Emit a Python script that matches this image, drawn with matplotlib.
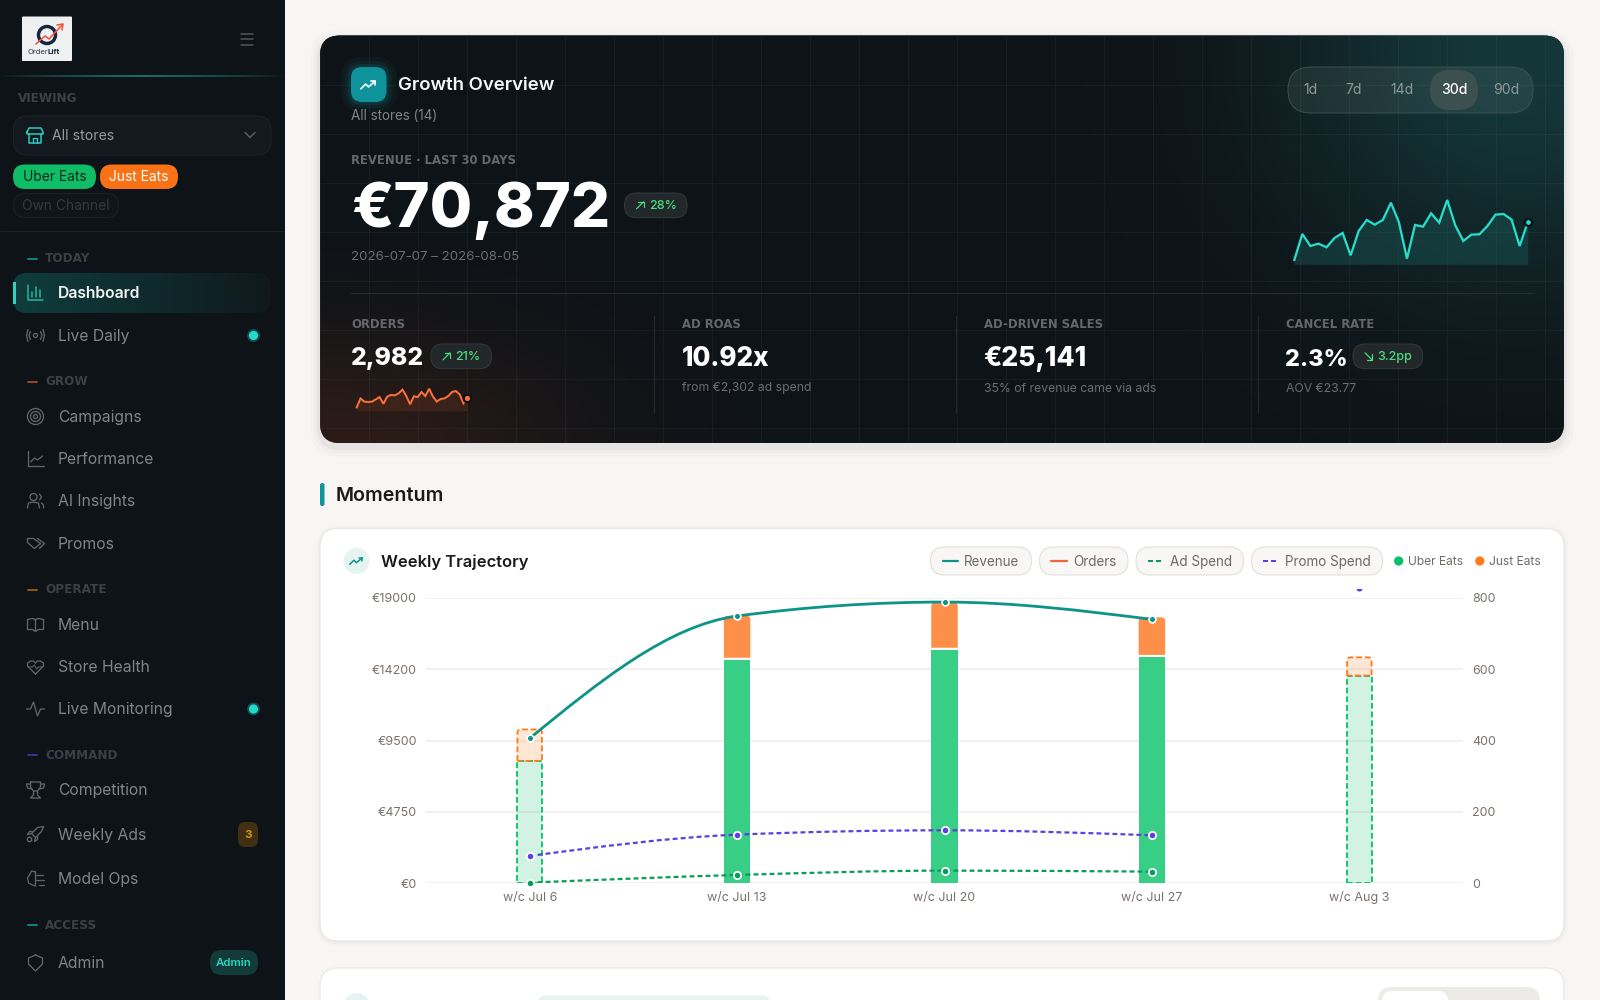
import numpy as np
import matplotlib
matplotlib.use("Agg")
import matplotlib.pyplot as plt
from matplotlib.patches import FancyBboxPatch, Circle, PathPatch, Rectangle
from matplotlib.path import Path
from matplotlib.transforms import Bbox

plt.rcParams['font.family'] = ['Inter', 'DejaVu Sans']

# chart data
weeks = ['w/c Jul 6', 'w/c Jul 13', 'w/c Jul 20', 'w/c Jul 27', 'w/c Aug 3']
uber_orders = [343, 629, 657, 637, 582]
just_orders = [88, 120, 129, 108, 51]
partial_week = [True, False, False, False, True]
revenue = [9644, 17781, 18710, 17560]
ad_spend = [45, 554, 842, 776]
promo_spend = [1818, 3237, 3525, 3192]
promo_last_week = 19625
money_ticks = [0, 4750, 9500, 14250, 19000]
money_labels = ['€0', '€4750', '€9500', '€14200', '€19000']
order_ticks = [0, 200, 400, 600, 800]

revenue_daily = [299, 2093, 1265, 1426, 1173, 1817, 2162, 621, 2300, 3059, 2737, 3059, 4255, 2898, 391,
                 2714, 2599, 3519, 2875, 4439, 2691, 1610, 2047, 2070, 2645, 3427, 3473, 3082, 1265, 2898]
orders_daily = [25, 92, 68, 65, 68, 85, 102, 52, 105, 118, 115, 130, 158, 110, 48,
                108, 102, 140, 110, 165, 105, 68, 88, 92, 110, 140, 148, 122, 55, 92]

ranges = ['1d', '7d', '14d', '30d', '90d']
range_x = [1310, 1354, 1402, 1454, 1506]

nav_heads = [('TODAY', 258.5, '#0f8f8f'), ('GROW', 381.5, '#a8482c'), ('OPERATE', 589.5, '#a85c14'),
             ('COMMAND', 755, '#43389c'), ('ACCESS', 925, '#0f8f8f')]
nav_items = [('Live Daily', 335.5), ('Campaigns', 416.5), ('Performance', 459), ('AI Insights', 501),
             ('Promos', 543.5), ('Menu', 624.5), ('Store Health', 667), ('Live Monitoring', 709),
             ('Competition', 790), ('Weekly Ads', 834.5), ('Model Ops', 879), ('Admin', 963)]

TEAL = '#0d9488'
GREEN = '#06c167'
ORANGE = '#ff7a1a'
PURPLE = '#5b3fe0'
ADGREEN = '#0a9a5c'

fig = plt.figure(figsize=(16, 10), dpi=100, facecolor='#f7f6f4')
ui = fig.add_axes([0, 0, 1, 1])
ui.set_xlim(0, 1600)
ui.set_ylim(1000, 0)
ui.axis('off')


def box(x0, y0, x1, y1, r, fc, ec='none', lw=1.0, z=2, alpha=None):
    p = FancyBboxPatch((x0, y0), x1 - x0, y1 - y0, boxstyle=f'round,pad=0,rounding_size={r}',
                       fc=fc, ec=ec, lw=lw * 0.72, zorder=z, alpha=alpha)
    ui.add_patch(p)
    return p


def txt(x, y, s, px, color, weight='normal', ha='left', va='center', z=6, family=None):
    kw = {'family': family} if family else {}
    return ui.text(x, y, s, fontsize=px * 0.72, color=color, fontweight=weight, ha=ha, va=va, zorder=z, **kw)


def poly(pts, color, lw=1.3, z=6, **kw):
    xs, ys = zip(*pts)
    ui.plot(xs, ys, color=color, lw=lw * 0.72, zorder=z, solid_capstyle='round',
            solid_joinstyle='round', **kw)


def ring(x, y, r, color, lw=1.3, z=6, fc='none'):
    ui.add_patch(Circle((x, y), r, fc=fc, ec=color, lw=lw * 0.72, zorder=z))


def trend(x, y, color, s=1.0, lw=1.6):
    poly([(x - 8 * s, y + 4 * s), (x - 3 * s, y - 1 * s), (x, y + 2 * s), (x + 7 * s, y - 4 * s)], color, lw)
    poly([(x + 3 * s, y - 4 * s), (x + 7 * s, y - 4 * s), (x + 7 * s, y)], color, lw)


def icon(name, x, y, c):
    if name == 'Dashboard':
        poly([(x - 7, y - 8), (x - 7, y + 7), (x + 8, y + 7)], c, 1.5)
        for dx, top in [(-3, -1), (1, -6), (5, -3)]:
            poly([(x + dx, y + 4), (x + dx, y + top)], c, 1.5)
    elif name == 'Live Daily':
        ring(x, y, 2, c)
        for sgn in (-1, 1):
            poly([(x + sgn * 5, y - 4), (x + sgn * 6.5, y), (x + sgn * 5, y + 4)], c)
            poly([(x + sgn * 7.5, y - 6), (x + sgn * 9, y), (x + sgn * 7.5, y + 6)], c)
    elif name == 'Campaigns':
        for r in (8, 5, 2):
            ring(x, y, r, c)
    elif name == 'Performance':
        poly([(x - 8, y - 8), (x - 8, y + 7), (x + 8, y + 7)], c)
        poly([(x - 5, y + 3), (x - 1, y - 1), (x + 2, y + 1), (x + 7, y - 3)], c)
    elif name == 'AI Insights':
        ring(x - 2, y - 4, 3.5, c)
        poly([(x - 8, y + 7), (x - 7, y + 2), (x - 2, y + 1), (x + 3, y + 2), (x + 4, y + 7)], c)
        poly([(x + 4, y - 7), (x + 6, y - 4), (x + 4, y - 1)], c)
        poly([(x + 6, y + 2), (x + 8, y + 4), (x + 8, y + 7)], c)
    elif name == 'Promos':
        poly([(x - 8, y - 5), (x - 2, y - 5), (x + 5, y), (x - 1, y + 5), (x - 8, y - 1), (x - 8, y - 5)], c)
        poly([(x + 2, y - 5), (x + 9, y), (x + 4, y + 5)], c)
    elif name == 'Menu':
        poly([(x - 8, y - 5), (x - 3, y - 6), (x, y - 5), (x, y + 7), (x - 3, y + 5), (x - 8, y + 5), (x - 8, y - 5)], c)
        poly([(x + 8, y - 5), (x + 3, y - 6), (x, y - 5)], c)
        poly([(x, y + 7), (x + 3, y + 5), (x + 8, y + 5), (x + 8, y - 5)], c)
    elif name == 'Store Health':
        poly([(x, y + 7), (x - 8, y - 1), (x - 8, y - 4), (x - 5, y - 6), (x - 2, y - 6), (x, y - 4),
              (x + 2, y - 6), (x + 5, y - 6), (x + 8, y - 4), (x + 8, y - 1), (x, y + 7)], c)
        poly([(x - 7, y), (x - 3, y), (x - 1, y - 2), (x + 1, y + 2), (x + 3, y), (x + 7, y)], c, 1.0)
    elif name == 'Live Monitoring':
        poly([(x - 9, y), (x - 5, y), (x - 2, y - 7), (x + 2, y + 7), (x + 5, y), (x + 9, y)], c)
    elif name == 'Competition':
        poly([(x - 5, y - 8), (x + 5, y - 8), (x + 5, y - 3), (x + 2, y + 1), (x - 2, y + 1), (x - 5, y - 3), (x - 5, y - 8)], c)
        poly([(x - 5, y - 6), (x - 9, y - 6), (x - 8, y - 2), (x - 4, y - 1)], c)
        poly([(x + 5, y - 6), (x + 9, y - 6), (x + 8, y - 2), (x + 4, y - 1)], c)
        poly([(x - 2, y + 1), (x - 2, y + 5), (x - 5, y + 8), (x + 5, y + 8), (x + 2, y + 5), (x + 2, y + 1)], c)
    elif name == 'Weekly Ads':
        poly([(x + 8, y - 8), (x + 2, y - 7), (x - 4, y - 1), (x, y + 3), (x + 6, y - 3), (x + 8, y - 8)], c)
        poly([(x - 4, y - 1), (x - 8, y), (x - 6, y - 3), (x - 3, y - 3)], c)
        poly([(x, y + 3), (x - 1, y + 7), (x + 2, y + 5), (x + 2, y + 2)], c)
        ring(x - 6, y + 5, 2.2, c)
    elif name == 'Model Ops':
        poly([(x, y - 7), (x - 4, y - 8), (x - 6, y - 4), (x - 8, y - 1), (x - 7, y + 4), (x - 3, y + 6), (x, y + 7), (x, y - 7)], c)
        poly([(x, y - 4), (x + 7, y - 4)], c)
        poly([(x, y + 1), (x + 8, y + 1)], c)
        poly([(x + 3, y + 6), (x + 8, y + 6)], c)
    elif name == 'Admin':
        poly([(x, y - 8), (x + 7, y - 5), (x + 7, y + 1), (x, y + 8), (x - 7, y + 1), (x - 7, y - 5), (x, y - 8)], c)


def gradient(x0, y0, x1, y1, rgba, clip, z=1):
    im = ui.imshow(rgba, extent=(x0, x1, y1, y0), aspect='auto', zorder=z, interpolation='bilinear')
    im.set_clip_path(clip)
    ui.set_xlim(0, 1600)
    ui.set_ylim(1000, 0)


def rgb(h):
    return np.array(matplotlib.colors.to_rgb(h))


# sidebar
ui.add_patch(Rectangle((0, 0), 284.5, 1000, fc='#0d1317', ec='none', zorder=1))
box(22, 16.5, 72, 61, 1, '#eef0f2', z=2)
ring(47, 35, 8.5, '#16263f', 3.4, z=3)
poly([(36, 44), (45, 36), (49, 39), (62, 25)], '#f0563a', 1.6, z=4)
poly([(57, 25), (63, 24), (62, 30)], '#f0563a', 1.6, z=4)
ui.text(28, 52.5, 'Order', fontsize=5.5, color='#33404f', va='center', zorder=4)
ui.text(47, 52.5, 'Lift', fontsize=5.5, color='#16263f', fontweight='bold', va='center', zorder=4)
for yy in (33.5, 39, 44.5):
    poly([(240.5, yy), (252.5, yy)], '#4d545a', 1.6)
line_grad = np.zeros((1, 285, 4))
line_grad[0, :, :3] = rgb('#1f8d85')
line_grad[0, :, 3] = 0.75 * np.clip(1 - np.abs(np.linspace(-1, 1, 285)), 0, 1) ** 0.7
clip_all = Rectangle((0, 74), 285, 4, transform=ui.transData)
gradient(0, 75.3, 285, 77, line_grad, clip_all, z=2)

txt(18, 98.5, 'VIEWING', 12, '#3c4248', 'bold', family='DejaVu Sans')
box(13.5, 116, 271, 155, 14, '#14191e', '#1d2328')
poly([(27, 132), (29, 128), (41, 128), (43, 132), (43, 134), (27, 134), (27, 132)], '#22d3c5', 1.5)
poly([(29, 134), (29, 143), (41, 143), (41, 134)], '#22d3c5', 1.5)
poly([(33, 143), (33, 138), (37, 138), (37, 143)], '#22d3c5', 1.3)
txt(52.5, 135.5, 'All stores', 14, '#959ba0')
poly([(245, 132.5), (250, 137.5), (255, 132.5)], '#565d63', 1.5)
box(13, 164.5, 96, 189, 12, '#0fbd66')
txt(54.5, 177.2, 'Uber Eats', 13.8, '#06281a', ha='center')
box(100, 164.5, 178, 189, 12, '#f97316')
txt(139, 177.2, 'Just Eats', 13.8, '#ffffff', ha='center')
box(13.5, 193.5, 118.5, 217.5, 12, '#0f1519', '#1a2025')
txt(66, 205.8, 'Own Channel', 13.8, '#33393f', ha='center')
poly([(0, 231), (284, 231)], '#1a2025', 1.0)

for name, yy, c in nav_heads:
    poly([(27.5, yy), (37, yy)], c, 1.8)
    txt(45, yy + 0.3, name, 12, '#3a4046', 'bold', family='DejaVu Sans')

row_clip = box(13, 273, 271, 313, 14, 'none', z=1)
row = np.zeros((1, 258, 4))
row[0, :, :3] = rgb('#0f3d3d') * np.linspace(1, 0, 258)[:, None] + rgb('#10191e') * np.linspace(0, 1, 258)[:, None]
row[0, :, 3] = 1
gradient(13, 273, 271, 313, row, row_clip, z=2)
ui.add_patch(Rectangle((13, 282), 3, 22, fc='#2dd4bf', ec='none', zorder=4))
icon('Dashboard', 35, 293, '#1fb9a9')
txt(58, 293.8, 'Dashboard', 15.7, '#f2f4f5', 'semibold')

for name, yy in nav_items:
    icon(name, 35.5, yy, '#5f666c')
    txt(58, yy + 0.7, name, 15.7, '#7e858b')
for yy in (335.5, 709):
    ui.add_patch(Circle((253.5, yy), 6.5, fc='#134a4a', ec='none', zorder=5))
    ui.add_patch(Circle((253.5, yy), 4.6, fc='#22d9cb', ec='none', zorder=6))
box(238, 822, 258, 847, 7, '#3f3013')
txt(248, 835, '3', 11.5, '#d4920e', 'bold', ha='center')
box(210, 950, 258, 975, 12, '#123b3a')
txt(234, 963, 'Admin', 11.5, '#2dd4bf', 'semibold', ha='center')

# hero card
for k, a in zip((10, 6, 3), (0.015, 0.02, 0.035)):
    box(320 - k, 36 - k + 4, 1564 + k, 443 + k + 4, 20 + k, '#000000', z=1, alpha=a)
card = box(320, 35.5, 1564, 443, 20, '#0e1317', z=2)
gy, gx = np.mgrid[35.5:443:204j, 320:1564:622j]
base = rgb('#0e1317')
teal_glow = np.exp(-(((gx - 1520) / 230) ** 2 + ((gy - 50) / 230) ** 2))
rust_glow = np.exp(-(((gx - 330) / 230) ** 2 + ((gy - 450) / 120) ** 2))
hero = base + teal_glow[..., None] * (rgb('#14383a') - base) + rust_glow[..., None] * (rgb('#2c1c18') - base)
gradient(320, 35.5, 1564, 443, hero, card, z=2.1)
for gxx in np.arange(320, 1564, 49.0):
    ln = ui.plot([gxx, gxx], [35.5, 443], color='#ffffff', alpha=0.04, lw=0.8, zorder=2.2)[0]
    ln.set_clip_path(card)
for gyy in np.arange(84.7, 443, 49.0):
    ln = ui.plot([320, 1564], [gyy, gyy], color='#ffffff', alpha=0.04, lw=0.8, zorder=2.2)[0]
    ln.set_clip_path(card)

for k, a in zip((10, 6, 3), (0.05, 0.08, 0.12)):
    box(351 - k, 67 - k, 386.5 + k, 102 + k, 11 + k, '#12a0a5', z=2.5, alpha=a)
box(351, 67, 386.5, 102, 11, '#0e929c', z=3)
trend(368.5, 85, '#ffffff', 0.95, 1.7)
txt(398, 85.8, 'Growth Overview', 18.6, '#f5f6f6', 'semibold')
txt(351, 115.5, 'All stores (14)', 13.5, '#7d8388')
txt(351, 160, 'REVENUE · LAST 30 DAYS', 11.6, '#63686c', 'bold', family='DejaVu Sans')
ui.text(351, 227, '€70,872', fontsize=61.5 * 0.72, color='#ffffff', fontweight='heavy', va='baseline', zorder=6)
txt(351, 256.5, '2026-07-07 – 2026-08-05', 13.3, '#696e73')
poly([(351, 292.7), (1533.5, 292.7)], '#262b2e', 1.2, z=3)


def delta(x0, x1, y0, y1, s, up=True):
    box(x0, y0, x1, y1, 12, '#22282a', '#33393b', z=4)
    ax_ = x0 + 12
    cy = (y0 + y1) / 2
    if up:
        poly([(ax_, cy + 3.5), (ax_ + 7, cy - 3.5)], '#4ade80', 1.2)
        poly([(ax_ + 1.5, cy - 3.5), (ax_ + 7, cy - 3.5), (ax_ + 7, cy + 2)], '#4ade80', 1.2)
    else:
        poly([(ax_, cy - 3.5), (ax_ + 7, cy + 3.5)], '#4ade80', 1.2)
        poly([(ax_ + 1.5, cy + 3.5), (ax_ + 7, cy + 3.5), (ax_ + 7, cy - 2)], '#4ade80', 1.2)
    txt(ax_ + 12.5, cy + 0.5, s, 12.5, '#4ade80', 'medium')


delta(624.5, 687, 193, 217.7, '28%')
delta(431, 491.4, 344, 368.7, '21%')
delta(1353, 1422.7, 344, 368.7, '3.2pp', up=False)

for xx in (653.5, 956, 1258):
    poly([(xx, 316), (xx, 411.7)], '#24292c', 1.2, z=3)
for xx, lab, val, vpx, sub in [(351, 'ORDERS', '2,982', 24.8, None),
                               (681.5, 'AD ROAS', '10.92x', 26, 'from €2,302 ad spend'),
                               (983.5, 'AD-DRIVEN SALES', '€25,141', 26.5, '35% of revenue came via ads'),
                               (1285.5, 'CANCEL RATE', '2.3%', 23.4, 'AOV €23.77')]:
    txt(xx, 324, lab, 11.6, '#63686c', 'bold', family='DejaVu Sans')
    ui.text(xx, 365.5, val, fontsize=vpx * 0.72, color='#ffffff', fontweight='heavy', va='baseline', zorder=6)
    if sub:
        txt(xx, 388.5, sub, 12.2, '#696e73')

box(1288, 67, 1533, 113, 23, '#ffffff', z=3, alpha=0.07)
box(1288, 67, 1533, 113, 23, 'none', '#3b4f4f', z=3)
box(1430, 70, 1478, 110, 20, '#3d5050', z=4)
for xx, lab in zip(range_x, ranges):
    txt(xx, 90.5, lab, 14, '#ffffff' if lab == '30d' else '#8b9999', 'medium' if lab == '30d' else 'normal', ha='center')

# section heading
box(320, 483, 324.5, 506, 2, '#0f969c')
txt(336, 496, 'Momentum', 19.6, '#1a1a1a', 'semibold')

# weekly card
for k, a in zip((4, 2), (0.012, 0.02)):
    box(320 - k, 528.5 - k + 1, 1564 + k, 941 + k + 1, 18 + k, '#000000', z=1, alpha=a)
box(320, 528.5, 1564, 941, 18, '#ffffff', '#e9e7e3', 1.2)
ui.add_patch(Circle((356.5, 561), 13, fc='#e6f4f1', ec='none', zorder=3))
trend(356.5, 561, TEAL, 0.85, 1.5)
txt(381, 562.2, 'Weekly Trajectory', 16.6, '#1a1a1a', 'semibold')

# legend pills
for x0, x1, dx0, dx1, c, dashed, tx, lab in [(930.5, 1031.5, 942.5, 957.7, TEAL, False, 964, 'Revenue'),
                                             (1039.5, 1128, 1051, 1066.5, '#f4633a', False, 1073, 'Orders'),
                                             (1136, 1243.5, 1147.6, 1161, ADGREEN, True, 1170, 'Ad Spend'),
                                             (1251.5, 1382.5, 1263, 1276, PURPLE, True, 1285, 'Promo Spend')]:
    box(x0, 547, x1, 575, 14, '#f8f7f5', '#e4e2de', 1.2, z=3)
    if dashed:
        ui.plot([dx0, dx1], [561, 561], color=c, lw=2 * 0.72, ls=(0, (2.5, 1.5)), zorder=5)
    else:
        poly([(dx0, 561), (dx1, 561)], c, 2.2)
    txt(tx, 561.7, lab, 13.5, '#716b66')
ui.add_patch(Circle((1398.7, 561), 4.6, fc=GREEN, ec='none', zorder=5))
txt(1408, 561.7, 'Uber Eats', 12, '#716b66')
ui.add_patch(Circle((1479.8, 561), 4.6, fc=ORANGE, ec='none', zorder=5))
txt(1489, 561.7, 'Just Eats', 12, '#716b66')

# next card, cut off by the page bottom
box(320, 968, 1564, 1040, 18, '#ffffff', '#e9e7e3', 1.2)
ui.add_patch(Circle((356.5, 1006), 13, fc='#e6f4f1', ec='none', zorder=3))
box(538, 995.5, 770, 1030, 8, '#e6f4f1')
box(1378, 987, 1540, 1030, 14, '#ecebe8')
box(1382, 991, 1448, 1030, 10, '#ffffff', z=3)


def px_axes(x0, y0, x1, y1, z=5):
    a = fig.add_axes([x0 / 1600, 1 - y1 / 1000, (x1 - x0) / 1600, (y1 - y0) / 1000], zorder=z)
    a.patch.set_alpha(0)
    return a


def sparkline(values, box_px, ymax, line_c, fill_c, fill_a, lw, dot):
    a = px_axes(*box_px)
    xs = np.arange(len(values))
    a.fill_between(xs, 0, values, color=fill_c, alpha=fill_a, lw=0)
    a.plot(xs, values, color=line_c, lw=lw * 0.72, solid_joinstyle='miter', clip_on=False)
    a.plot(xs[-1], values[-1], 'o', ms=dot * 0.72, mfc=line_c, mec='#0c1114', mew=1.6, clip_on=False)
    a.set_xlim(0, len(values) - 1)
    a.set_ylim(0, ymax)
    a.axis('off')


sparkline(revenue_daily, (1294.3, 180, 1527.7, 264.3), 5819, '#27dcca', '#1f6e69', 0.32, 2.3, 7)
sparkline(orders_daily, (356.7, 370, 467.3, 410.7), 305, '#f9703c', '#6a3420', 0.35, 2.0, 7.5)


def monotone_path(xs, ys):
    # same curve the chart library draws for a "monotone" line
    xs = np.asarray(xs, float)
    ys = np.asarray(ys, float)
    s = np.diff(ys) / np.diff(xs)
    m = np.zeros(len(xs))
    for i in range(1, len(xs) - 1):
        if s[i - 1] * s[i] > 0:
            m[i] = np.sign(s[i]) * min(abs(s[i - 1]), abs(s[i]), 0.5 * abs(s[i - 1] + s[i])) * 2
            m[i] = np.sign(s[i]) * min(abs(m[i]), abs(s[i - 1] + s[i]) / 2)
    m[0] = (3 * s[0] - m[1]) / 2
    m[-1] = (3 * s[-1] - m[-2]) / 2
    verts = [(xs[0], ys[0])]
    codes = [Path.MOVETO]
    for i in range(len(xs) - 1):
        h = (xs[i + 1] - xs[i]) / 3
        verts += [(xs[i] + h, ys[i] + m[i] * h), (xs[i + 1] - h, ys[i + 1] - m[i + 1] * h), (xs[i + 1], ys[i + 1])]
        codes += [Path.CURVE4] * 3
    return Path(verts, codes)


def round_top(x, y0, h, w, rx, ry):
    l, r = x - w / 2, x + w / 2
    t = y0 + h
    return Path([(l, y0), (l, t - ry), (l, t), (l + rx, t), (r - rx, t), (r, t), (r, t - ry), (r, y0), (l, y0)],
                [Path.MOVETO, Path.LINETO, Path.CURVE3, Path.CURVE3, Path.LINETO, Path.CURVE3, Path.CURVE3,
                 Path.LINETO, Path.CLOSEPOLY])


# main chart: bars on the order scale, lines on the money scale
ax = px_axes(426, 597.7, 1463, 883.3, z=5)
x = np.arange(len(weeks))
ax.set_xlim(-0.5, 4.5)
ax.set_ylim(0, 800)
ax.set_yticks(order_ticks)
ax.set_xticks(x, weeks)
ax.grid(axis='y', color='#efeeec', lw=1.1)
ax.set_axisbelow(True)
ax.tick_params(axis='both', length=0, labelcolor='#7a726c', labelsize=12.5 * 0.72)
ax.tick_params(axis='x', pad=12.6)
ax.tick_params(axis='y', pad=6.5)
for lab in ax.get_xticklabels():
    lab.set_va('baseline')
for s in ax.spines.values():
    s.set_visible(False)

gap = 2 / 285.6 * 800
for i, wk in enumerate(weeks):
    w = (24.5 if partial_week[i] else 26.5) / 207.4
    if partial_week[i]:
        ax.bar(x[i], uber_orders[i], w, color=matplotlib.colors.to_rgba(GREEN, 0.18), edgecolor=GREEN,
               linewidth=1.3, linestyle=(0, (3.2, 1.6)), zorder=3)
        patch = PathPatch(round_top(x[i], uber_orders[i], just_orders[i], w, 3.5 / 207.4, 3.5 / 285.6 * 800),
                          fc=matplotlib.colors.to_rgba(ORANGE, 0.18), ec=ORANGE, lw=1.3,
                          ls=(0, (3.2, 1.6)), zorder=3)
    else:
        ax.bar(x[i], uber_orders[i] - gap / 2, w, color='#38ce85', linewidth=0, zorder=3)
        patch = PathPatch(round_top(x[i], uber_orders[i] + gap / 2, just_orders[i] - gap / 2, w,
                                    3.5 / 207.4, 3.5 / 285.6 * 800), fc='#fd8f48', ec='none', zorder=3)
    ax.add_patch(patch)

money = ax.twinx()
ax.yaxis.tick_right()
money.set_ylim(0, 19000)
money.set_yticks(money_ticks, money_labels)
money.yaxis.tick_left()
money.tick_params(axis='y', length=0, labelcolor='#7a726c', labelsize=12.5 * 0.72, pad=6.5)
money.patch.set_alpha(0)
for s in money.spines.values():
    s.set_visible(False)

line_x = x[:len(revenue)]
money.add_patch(PathPatch(monotone_path(line_x, revenue), fc='none', ec=TEAL, lw=2.0, zorder=4, capstyle='round'))
money.add_patch(PathPatch(monotone_path(line_x, ad_spend), fc='none', ec=ADGREEN, lw=1.6, ls=(0, (2.2, 1.4)), zorder=4))
money.add_patch(PathPatch(monotone_path(line_x, promo_spend), fc='none', ec=PURPLE, lw=1.6, ls=(0, (2.2, 1.4)), zorder=4))
money.plot(line_x, revenue, 'o', ms=4.9, mfc=TEAL, mec='white', mew=1.25, zorder=5, clip_on=False)
money.plot(line_x, ad_spend, 'o', ms=5.25, mfc=ADGREEN, mec='white', mew=1.25, zorder=5, clip_on=False)
money.plot(line_x, promo_spend, 'o', ms=5.25, mfc=PURPLE, mec='white', mew=1.25, zorder=5, clip_on=False)
# last week's promo point sits above the scale and only its tip shows
tip = money.plot([x[4]], [promo_last_week], 'o', ms=4.4, mfc=PURPLE, mew=0, zorder=5)[0]
tip.set_clip_box(Bbox([[0, 0], [1600, 1000 - 589]]))

fig.savefig('out.png', dpi=100, facecolor=fig.get_facecolor())
